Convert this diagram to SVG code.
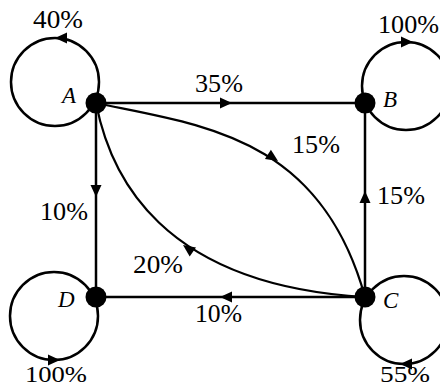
<svg xmlns="http://www.w3.org/2000/svg" width="440" height="389" viewBox="0 0 440 389">
<style>
.e{fill:none;stroke:#000;stroke-width:2.5}
.c{fill:none;stroke:#000;stroke-width:2.2}
.l{fill:none;stroke:#000;stroke-width:2.5}
.t{font-family:"Liberation Serif","Times New Roman",serif;font-size:26px;fill:#000}
.b{font-size:24px}
.n{font-family:"Liberation Serif","Times New Roman",serif;font-size:23px;font-style:italic;fill:#000}
.d{fill:#000}
</style>
<defs>
<path id="ah" d="M0,0 L-12,-5.5 L-12,5.5 Z" fill="#000"/>
</defs>
<g id="connectors">
<line class="e" x1="96" y1="103" x2="365" y2="103"/>
<line class="e" x1="96" y1="103" x2="96" y2="297"/>
<line class="e" x1="365" y1="297" x2="365" y2="103"/>
<line class="e" x1="365" y1="297" x2="96" y2="297"/>
<path class="c" d="M96,103 C200,125 320,135 365,297"/>
<path class="c" d="M96,103 C110,175 160,285 365,297"/>
<circle class="l" cx="55" cy="82" r="44"/>
<circle class="l" cx="406" cy="86" r="44"/>
<circle class="l" cx="404" cy="320" r="44"/>
<circle class="l" cx="54" cy="316" r="44"/>
<use href="#ah" transform="translate(232,103)"/>
<use href="#ah" transform="translate(96,197) rotate(90)"/>
<use href="#ah" transform="translate(365,191) rotate(-90)"/>
<use href="#ah" transform="translate(220,297) rotate(180)"/>
<use href="#ah" transform="translate(278,161) rotate(33)"/>
<use href="#ah" transform="translate(183,245) rotate(215)"/>
<use href="#ah" transform="translate(55,38) rotate(180)"/>
<use href="#ah" transform="translate(413,42)"/>
<use href="#ah" transform="translate(400,364) rotate(180)"/>
<use href="#ah" transform="translate(60,360)"/>
<text class="t" x="195" y="92" textLength="48" lengthAdjust="spacingAndGlyphs">35%</text>
<text class="t" x="292" y="153" textLength="48" lengthAdjust="spacingAndGlyphs">15%</text>
<text class="t" x="377" y="204" textLength="48" lengthAdjust="spacingAndGlyphs">15%</text>
<text class="t" x="40" y="220" textLength="48" lengthAdjust="spacingAndGlyphs">10%</text>
<text class="t" x="133" y="273" textLength="50" lengthAdjust="spacingAndGlyphs">20%</text>
<text class="t" x="195" y="322" textLength="47" lengthAdjust="spacingAndGlyphs">10%</text>
<text class="t" x="33" y="28" textLength="50" lengthAdjust="spacingAndGlyphs">40%</text>
<text class="t" x="378" y="33" textLength="61" lengthAdjust="spacingAndGlyphs">100%</text>
<text class="t b" x="25" y="382" textLength="62" lengthAdjust="spacingAndGlyphs">100%</text>
<text class="t b" x="380" y="382" textLength="50" lengthAdjust="spacingAndGlyphs">55%</text>
</g>
<g id="A"><circle class="d" cx="96" cy="103" r="10.5"/><text class="n" x="62" y="103">A</text></g>
<g id="B"><circle class="d" cx="365" cy="103" r="10.5"/><text class="n" x="383" y="107">B</text></g>
<g id="C"><circle class="d" cx="365" cy="297" r="10.5"/><text class="n" x="383" y="308">C</text></g>
<g id="D"><circle class="d" cx="96" cy="297" r="10.5"/><text class="n" x="58" y="307">D</text></g>
</svg>
